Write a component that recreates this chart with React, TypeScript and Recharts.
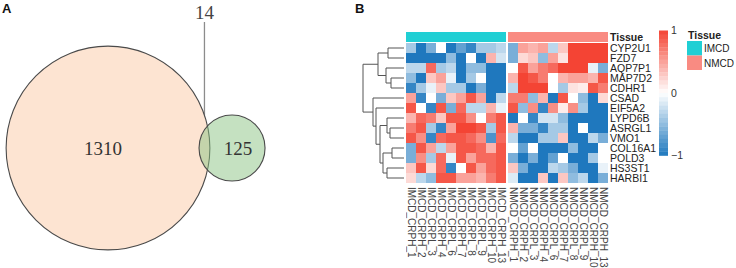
import { ScatterChart, Scatter, XAxis, YAxis, ReferenceLine } from "recharts";

// ---- panel A: venn counts ----
const vennOnlyA = 1310;
const vennOnlyB = 125;
const vennShared = 14;
// distance between circle centres, in sqrt(count) units
const vennCenterDist = 44.3;

// ---- panel B: heatmap ----
const genes = [
  "CYP2U1", "FZD7", "AQP7P1", "MAP7D2", "CDHR1", "CSAD", "EIF5A2",
  "LYPD6B", "ASRGL1", "VMO1", "COL16A1", "POLD3", "HS3ST1", "HARBI1",
];
const imcdSamples = [
  "IMCD_CRPH_1", "IMCD_CRPH_2", "IMCD_CRPL_3", "IMCD_CRPH_4", "IMCD_CRPL_6",
  "IMCD_CRPH_7", "IMCD_CRPL_8", "IMCD_CRPL_9", "IMCD_CRPH_10", "IMCD_CRPH_13",
];
const nmcdSamples = [
  "NMCD_CRPH_1", "NMCD_CRPH_2", "NMCD_CRPL_3", "NMCD_CRPH_4", "NMCD_CRPL_6",
  "NMCD_CRPH_7", "NMCD_CRPL_8", "NMCD_CRPL_9", "NMCD_CRPH_10", "NMCD_CRPH_13",
];
const imcdValues = [
  [-0.4, -1, -0.6, 0, -1, -0.7, -0.9, -0.4, -0.4, -0.3],
  [-1, -1, -1, -1, -0.5, -1, 0, -1, 0.4, -0.2],
  [-0.3, -0.3, 0.8, -0.4, -0.3, -1, -0.5, -0.5, -1, -1],
  [-0.5, -1, 0.3, 0.5, -0.1, -1, -0.4, 0, -1, -1],
  [-0.9, -0.4, -0.1, 0.3, -0.4, -0.4, -1, -0.6, -1, -1],
  [0.5, -0.9, 0, -0.6, 0.3, 0.5, 0.9, 0.5, -1, -0.3],
  [0.9, 0, -0.9, 0.9, -0.6, 0.8, -0.3, -0.3, 0.4, -0.1],
  [0.4, 0.8, 0.7, 0.3, 0.9, 0.9, 0.6, 0, 0.7, 0.9],
  [0.7, 0.9, -0.4, -0.9, 0.5, 1, 1, 0.9, -0.4, 0.9],
  [0.9, 0.6, -0.9, 0.8, 0.9, 0.9, 0.8, 0.6, -0.8, 0.8],
  [-0.6, 0.9, 0.5, -0.3, 0.5, 0.9, 0.9, 0.8, 0.4, 0.9],
  [-0.6, 0.6, -0.4, 0.8, -0.1, 0.9, 0.5, 0.8, 0.8, 0.9],
  [0.3, 0.9, 0.2, 0.8, -0.9, 0, 0.9, 0.5, 0.8, 0.9],
  [0.2, -0.3, -0.5, 0.9, 0.9, 0.5, 0.5, 0.4, 0.7, 0.9],
];
const nmcdValues = [
  [-0.6, 0.5, 0.4, 0.5, -0.3, 0.3, 1, 1, 1, 1],
  [-0.6, 0.2, 0.3, -0.5, 0.5, 0.15, 1, 1, 1, 1],
  [0, 0.9, 0.5, 0.7, 0.8, 1, 1, 1, -0.1, -0.6],
  [0.4, 1, 0.9, 0.7, 0, 0.4, 0.5, 0.5, 0.4, 0.9],
  [-0.3, 1, 1, 1, 0, -0.4, 0.15, 0.1, 0.9, 0.7],
  [0.7, 0.7, -0.5, 0.4, -1, 0.9, 0, -0.5, -1, 0.2],
  [0.9, -0.5, 0.6, -0.9, 0.6, 0.1, 0.6, -0.4, -1, -1],
  [-1, 0, -0.9, -0.2, -0.2, -0.5, -1, -1, -1, -1],
  [0.4, -0.6, -0.6, -0.9, -0.4, -0.4, -1, 0, -1, -1],
  [-0.3, -1, -1, -0.4, -0.4, 0.3, -1, -1, -0.3, -0.6],
  [0, -0.7, 0, -1, -1, -1, -0.5, -1, -1, 0],
  [-0.6, -1, -0.6, -1, -0.7, 0, -1, -1, -0.4, 0],
  [0.3, -0.6, -1, -1, -0.3, -0.4, -0.6, -1, -1, -0.1],
  [-0.15, -1, -1, 0.3, -1, 0.3, -0.5, -0.3, -1, -0.6],
];
const tissues = ["IMCD", "NMCD"];
const legendTicks = [1, 0, -1];

// row dendrogram: leaves are row indexes, h = merge height
type TreeNode = number | { h: number; c: [TreeNode, TreeNode] };
const rowTree: TreeNode = {
  h: 4.1,
  c: [
    { h: 2.6, c: [{ h: 1.6, c: [0, 1] }, { h: 1.8, c: [2, { h: 1.3, c: [3, 4] }] }] },
    {
      h: 3.1,
      c: [
        5,
        {
          h: 2.8,
          c: [
            6,
            {
              h: 2.4,
              c: [
                { h: 1.7, c: [7, { h: 1.4, c: [8, 9] }] },
                { h: 2.1, c: [{ h: 1.2, c: [10, 11] }, { h: 1.7, c: [12, 13] }] },
              ],
            },
          ],
        },
      ],
    },
  ],
};

// ---- styles / layout ----
const SANS = '"Liberation Sans", Arial, sans-serif';
const SERIF = '"Liberation Serif", "Times New Roman", serif';
const tissueColors = ["#20cfd4", "#f98b82"];
const LOW = [31, 120, 190];
const HIGH = [244, 68, 52];

function heatColor(v: number) {
  const t = Math.min(1, Math.abs(v));
  const c = v >= 0 ? HIGH : LOW;
  const ch = (k: number) => Math.round(255 + (c[k] - 255) * t);
  return `rgb(${ch(0)},${ch(1)},${ch(2)})`;
}

// venn geometry (units = sqrt(count))
const VENN_W = 300;
const VENN_H = 268;
const PX = 2.8;
const VX0 = -108 / PX;
const VX1 = VX0 + VENN_W / PX;
const VY1 = 148 / PX;
const VY0 = VY1 - VENN_H / PX;
const rA = Math.sqrt(vennOnlyA + vennShared);
const rB = Math.sqrt(vennOnlyB + vennShared);
const lensX = (rA + vennCenterDist - rB) / 2;

const vennSets = [
  { x: 0, y: 0, r: rA },
  { x: vennCenterDist, y: 0, r: rB },
];
const vennLabels = [
  { x: -1.8, y: 0, text: String(vennOnlyA) },
  { x: 46.4, y: 0, text: String(vennOnlyB) },
];

// heatmap geometry
const HEAT_LEFT = 406;
const HEAT_W = 736 - HEAT_LEFT;
const PLOT_W = 202;
const PLOT_TOP = 32;
const PLOT_H = 151;
const GROUP_GAP = 0.2;
const X_SPAN = imcdSamples.length + nmcdSamples.length + GROUP_GAP;
const Y_MIN = -1.1;
const Y_MAX = genes.length;
const CW = PLOT_W / X_SPAN;
const CH = PLOT_H / (Y_MAX - Y_MIN);
const ANNOT_Y = -0.6;

const colX = (g: number, i: number) => (g === 0 ? i + 0.5 : imcdSamples.length + GROUP_GAP + i + 0.5);
const sampleLabels = [...imcdSamples, ...nmcdSamples];
const sampleTicks = sampleLabels.map((_, i) =>
  i < imcdSamples.length ? colX(0, i) : colX(1, i - imcdSamples.length)
);
const rowTicks = [ANNOT_Y, ...genes.map((_, r) => r + 0.5)];

const heatData: { x: number; y: number; v: number }[] = [];
genes.forEach((_, r) => {
  imcdValues[r].forEach((v, i) => heatData.push({ x: colX(0, i), y: r + 0.5, v }));
  nmcdValues[r].forEach((v, i) => heatData.push({ x: colX(1, i), y: r + 0.5, v }));
});
const annotData = [
  ...imcdSamples.map((_, i) => ({ x: colX(0, i), y: ANNOT_Y, t: 0 })),
  ...nmcdSamples.map((_, i) => ({ x: colX(1, i), y: ANNOT_Y, t: 1 })),
];

// dendrogram segments
type Seg = [{ x: number; y: number }, { x: number; y: number }];
const dendroSegs: Seg[] = [];
function walk(n: TreeNode): { h: number; y: number } {
  if (typeof n === "number") return { h: 0, y: n + 0.5 };
  const a = walk(n.c[0]);
  const b = walk(n.c[1]);
  dendroSegs.push([{ x: a.h, y: a.y }, { x: n.h, y: a.y }]);
  dendroSegs.push([{ x: b.h, y: b.y }, { x: n.h, y: b.y }]);
  dendroSegs.push([{ x: n.h, y: a.y }, { x: n.h, y: b.y }]);
  return { h: n.h, y: (a.y + b.y) / 2 };
}
walk(rowTree);
const leafData = genes.map((_, r) => ({ x: 0, y: r + 0.5 }));

function SampleTick(props: any) {
  const { x, y, index } = props;
  return (
    <text transform={`translate(${x},${y}) rotate(90)`} textAnchor="start" dy="0.35em" fontSize={10} fill="#444" fontFamily={SANS}>
      {sampleLabels[index]}
    </text>
  );
}

function GeneTick(props: any) {
  const { x, y, index } = props;
  return (
    <text x={x} y={y} dy="0.36em" textAnchor="start" fontSize={10.5} fill="#222" fontFamily={SANS} fontWeight={index === 0 ? "bold" : "normal"}>
      {index === 0 ? "Tissue" : genes[index - 1]}
    </text>
  );
}

export default function App() {
  const legendSteps = 30;
  const barTop = 30.5;
  const barH = 125;
  return (
    <div style={{ position: "absolute", left: 0, top: 0, width: 736, height: 268, background: "#fff", fontFamily: SANS }}>
      {/* panel A */}
      <div style={{ position: "absolute", left: 0, top: 0 }}>
        <ScatterChart width={VENN_W} height={VENN_H} margin={{ top: 0, right: 0, bottom: 0, left: 0 }}>
          <XAxis type="number" dataKey="x" domain={[VX0, VX1]} hide allowDataOverflow />
          <YAxis type="number" dataKey="y" domain={[VY0, VY1]} hide allowDataOverflow />
          <Scatter
            data={vennSets.slice(0, 1)}
            isAnimationActive={false}
            shape={(p: any) => <circle cx={p.cx} cy={p.cy} r={p.payload.r * PX} fill="#fde4d2" stroke="#4a4a4a" strokeWidth={1.1} />}
          />
          <Scatter
            data={vennSets.slice(1)}
            isAnimationActive={false}
            shape={(p: any) => <circle cx={p.cx} cy={p.cy} r={p.payload.r * PX} fill="rgba(140,196,132,0.5)" stroke="#4a4a4a" strokeWidth={1.1} />}
          />
          <ReferenceLine
            segment={[{ x: lensX, y: 0 }, { x: lensX, y: 45 }]}
            stroke="#8c8c8c"
            strokeWidth={1.3}
            ifOverflow="visible"
            label={{ value: String(vennShared), position: "top", offset: 3, fill: "#444", fontSize: 19, fontFamily: SERIF }}
          />
          <Scatter
            data={vennLabels}
            isAnimationActive={false}
            shape={(p: any) => (
              <text x={p.cx} y={p.cy} dy="0.35em" textAnchor="middle" fontSize={19} fill="#333" fontFamily={SERIF}>
                {p.payload.text}
              </text>
            )}
          />
        </ScatterChart>
      </div>

      {/* row dendrogram */}
      <div style={{ position: "absolute", left: HEAT_LEFT - 52, top: 0 }}>
        <ScatterChart width={52} height={268} margin={{ top: PLOT_TOP, right: 0, bottom: 268 - PLOT_TOP - PLOT_H, left: 0 }}>
          <XAxis type="number" dataKey="x" domain={[-0.2, 5.0]} reversed hide allowDataOverflow />
          <YAxis type="number" dataKey="y" domain={[Y_MIN, Y_MAX]} reversed hide allowDataOverflow />
          <Scatter data={leafData} isAnimationActive={false} shape={() => <g />} />
          {dendroSegs.map((s, i) => (
            <ReferenceLine key={i} segment={s} stroke="#555" strokeWidth={1} ifOverflow="visible" />
          ))}
        </ScatterChart>
      </div>

      {/* heatmap */}
      <div style={{ position: "absolute", left: HEAT_LEFT, top: 0 }}>
        <ScatterChart width={HEAT_W} height={268} margin={{ top: PLOT_TOP, right: HEAT_W - PLOT_W - 80, bottom: 268 - PLOT_TOP - PLOT_H - 80, left: 0 }}>
          <XAxis
            type="number"
            dataKey="x"
            domain={[0, X_SPAN]}
            ticks={sampleTicks}
            interval={0}
            height={80}
            axisLine={false}
            tickLine={false}
            tickSize={2}
            tickMargin={2}
            tick={<SampleTick />}
            allowDataOverflow
          />
          <YAxis
            type="number"
            dataKey="y"
            orientation="right"
            domain={[Y_MIN, Y_MAX]}
            reversed
            ticks={rowTicks}
            interval={0}
            width={80}
            axisLine={false}
            tickLine={false}
            tickSize={0}
            tickMargin={2}
            tick={<GeneTick />}
            allowDataOverflow
          />
          <Scatter
            data={annotData}
            isAnimationActive={false}
            shape={(p: any) => (
              <rect x={p.cx - CW / 2} y={p.cy - CH / 2} width={CW} height={CH} fill={tissueColors[p.payload.t]} shapeRendering="crispEdges" />
            )}
          />
          <Scatter
            data={heatData}
            isAnimationActive={false}
            shape={(p: any) => (
              <rect x={p.cx - CW / 2} y={p.cy - CH / 2} width={CW} height={CH} fill={heatColor(p.payload.v)} shapeRendering="crispEdges" />
            )}
          />
        </ScatterChart>
      </div>

      {/* legends and panel letters */}
      <svg width={736} height={268} style={{ position: "absolute", left: 0, top: 0, pointerEvents: "none" }}>
        <text x={2} y={13} fontSize={13} fontWeight="bold" fill="#111" fontFamily={SANS}>A</text>
        <text x={355} y={13} fontSize={13} fontWeight="bold" fill="#111" fontFamily={SANS}>B</text>
        {Array.from({ length: legendSteps }, (_, i) => {
          const v = 1 - (2 * (i + 0.5)) / legendSteps;
          return (
            <rect key={i} x={659} y={barTop + (i * barH) / legendSteps} width={9} height={barH / legendSteps + 0.3} fill={heatColor(v)} />
          );
        })}
        {legendTicks.map((t) => (
          <text key={t} x={671} y={barTop + ((1 - t) / 2) * barH} dy="0.35em" fontSize={10.5} fill="#333" fontFamily={SANS}>
            {t < 0 ? `\u2212${Math.abs(t)}` : t}
          </text>
        ))}
        <text x={688} y={39} fontSize={10.5} fontWeight="bold" fill="#222" fontFamily={SANS}>Tissue</text>
        {tissues.map((t, i) => (
          <g key={t}>
            <rect x={687} y={41 + i * 14.5} width={15} height={14.5} fill={tissueColors[i]} />
            <text x={704} y={48.5 + i * 14.5} dy="0.36em" fontSize={10} fill="#222" fontFamily={SANS}>{t}</text>
          </g>
        ))}
      </svg>
    </div>
  );
}
